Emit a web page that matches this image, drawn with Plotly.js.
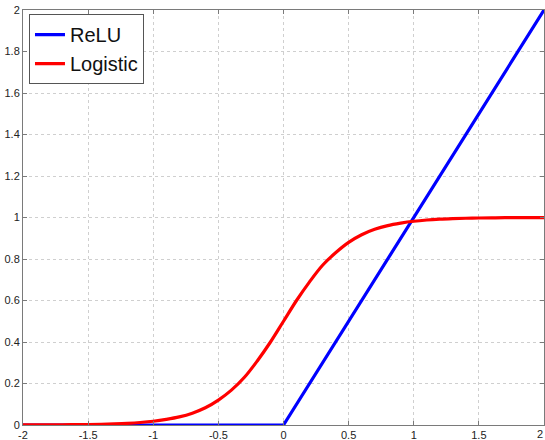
<!DOCTYPE html>
<html>
<head>
<meta charset="utf-8">
<script src="https://cdn.plot.ly/plotly-3.0.1.min.js"></script>
<style>
html,body{margin:0;padding:0;background:#fff;}
#chart{width:545px;height:440px;}
</style>
</head>
<body>
<div id="chart"></div>
<script>
// ReLU series
const reluX = [-2, 0, 2];
const reluY = [0, 0, 2];

// Logistic series
const logisticX = [-2.0,-1.9,-1.8,-1.7,-1.6,-1.5,-1.4,-1.3,-1.2,-1.1,-1.0,-0.9,-0.8,-0.7,-0.6,-0.5,-0.4,-0.3,-0.2,-0.1,0.0,0.1,0.2,0.3,0.4,0.5,0.6,0.7,0.8,0.9,1.0,1.1,1.2,1.3,1.4,1.5,1.6,1.7,1.8,1.9,2.0];
const logisticY = [0.0003,0.0005,0.0007,0.001,0.0017,0.0025,0.0037,0.0055,0.008,0.012,0.018,0.027,0.039,0.057,0.083,0.12,0.168,0.23,0.31,0.40,0.50,0.60,0.69,0.77,0.83,0.88,0.917,0.943,0.961,0.973,0.982,0.988,0.992,0.9945,0.9963,0.9975,0.9983,0.999,0.9993,0.9995,0.9997];

const xTicks = [-2,-1.5,-1,-0.5,0,0.5,1,1.5,2];
const xTickLabels = ['-2','-1.5','-1','-0.5','0','0.5','1','1.5','2'];
const yTicks = [0,0.2,0.4,0.6,0.8,1,1.2,1.4,1.6,1.8,2];
const yTickLabels = ['0','0.2','0.4','0.6','0.8','1','1.2','1.4','1.6','1.8','2'];

const tickFont = {family: 'Liberation Sans, Arial, sans-serif', size: 11, color: '#222'};

const traces = [
  {x: reluX, y: reluY, name: 'ReLU', mode: 'lines', line: {color: '#0000ff', width: 3.2}},
  {x: logisticX, y: logisticY, name: 'Logistic', mode: 'lines', line: {color: '#ff0000', width: 3.2, shape: 'spline'}}
];

const axisCommon = {
  showline: true, linecolor: '#7a7a7a', linewidth: 1, mirror: 'ticks',
  ticks: 'inside', ticklen: 4, tickcolor: '#7a7a7a',
  showgrid: true, gridcolor: '#cfcfcf', griddash: 'dot', gridwidth: 1,
  zeroline: false, tickfont: tickFont
};

// The last x tick label sits at the window edge; draw it as an annotation kept inside the window.
const lastX = xTicks[xTicks.length - 1];
const lastXLabel = xTickLabels[xTickLabels.length - 1];

const layout = {
  width: 545, height: 440,
  margin: {l: 23, r: 1, t: 10, b: 15},
  paper_bgcolor: '#fff', plot_bgcolor: '#fff',
  showlegend: true,
  legend: {
    x: 0.0115, y: 0.99, xanchor: 'left', yanchor: 'top',
    bgcolor: '#fff', bordercolor: '#555', borderwidth: 1,
    font: {family: 'Liberation Sans, Arial, sans-serif', size: 20, color: '#111'},
    tracegroupgap: 0
  },
  xaxis: Object.assign({}, axisCommon, {range: [-2, 2], tickvals: xTicks.slice(0, -1), ticktext: xTickLabels.slice(0, -1), ticklabelstandoff: 0}),
  yaxis: Object.assign({}, axisCommon, {range: [0, 2], tickvals: yTicks, ticktext: yTickLabels, ticklabelstandoff: 0}),
  annotations: [{
    x: lastX, y: 0, xref: 'x', yref: 'paper', text: lastXLabel, showarrow: false,
    xanchor: 'right', yanchor: 'top', xshift: 1, yshift: -1, font: tickFont
  }]
};

Plotly.newPlot('chart', traces, layout, {displayModeBar: false, staticPlot: true});
</script>
</body>
</html>
